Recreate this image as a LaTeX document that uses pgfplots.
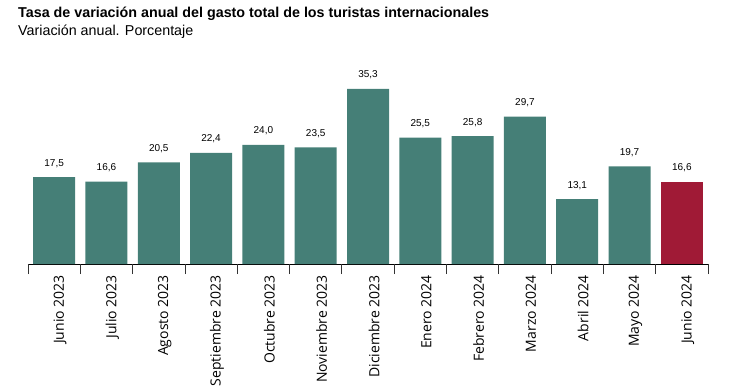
\documentclass[border=0pt]{standalone}
\usepackage{fontspec}
\setmainfont{Liberation Sans}
\newfontfamily\ticksfont{Open Sans}
\usepackage{pgfplots}
\pgfplotsset{compat=1.18}
\definecolor{teal1}{RGB}{69,127,119}
\definecolor{red1}{RGB}{160,26,54}
\begin{document}
\begin{tikzpicture}[x=1pt,y=1pt]
\useasboundingbox (-28,-125) rectangle (713,264);
\begin{axis}[
  at={(0,0)}, anchor=south west,
  scale only axis, width=680pt, height=204pt,
  xmin=-0.5, xmax=12.5, ymin=0, ymax=41.13,
  axis x line*=bottom, axis line style={-, black, line width=0.8pt},
  hide y axis,
  xtick={0,...,12},
  xticklabels={Junio 2023,Julio 2023,Agosto 2023,Septiembre 2023,Octubre 2023,Noviembre 2023,Diciembre 2023,Enero 2024,Febrero 2024,Marzo 2024,Abril 2024,Mayo 2024,Junio 2024},
  major tick length=0pt,
  extra x ticks={-0.5,0.5,...,12.5}, extra x tick labels={},
  extra x tick style={major tick length=10pt, tick align=outside, tick style={black!80, line width=0.8pt}},
  x tick label style={rotate=90, anchor=east, inner sep=0pt, xshift=-11pt, yshift=-6pt, font=\ticksfont\fontsize{14}{16}\selectfont},
  ybar, bar width=42pt,
  nodes near coords={\pgfmathprintnumber[fixed,fixed zerofill,precision=1,use comma,assume math mode=true]{\pgfplotspointmeta}},
  every node near coord/.append style={anchor=base, yshift=11pt, inner sep=0pt, font=\fontsize{10}{12}\selectfont, text=black},
  clip=false,
]
\addplot[fill=teal1, draw=none, bar shift=0pt] coordinates {
  (0,17.5) (1,16.6) (2,20.5) (3,22.4) (4,24.0) (5,23.5) (6,35.3)
  (7,25.5) (8,25.8) (9,29.7) (10,13.1) (11,19.7)};
\addplot[fill=red1, draw=none, bar shift=0pt] coordinates {(12,16.6)};
\end{axis}
\node[anchor=base west, inner sep=0pt, font=\bfseries\fontsize{14.3}{17}\selectfont] at (-10,247) {Tasa de variación anual del gasto total de los turistas internacionales};
\node[anchor=base west, inner sep=0pt, font=\fontsize{14.3}{17}\selectfont] at (-10,229) {Variación anual. Porcentaje};
\end{tikzpicture}
\end{document}
